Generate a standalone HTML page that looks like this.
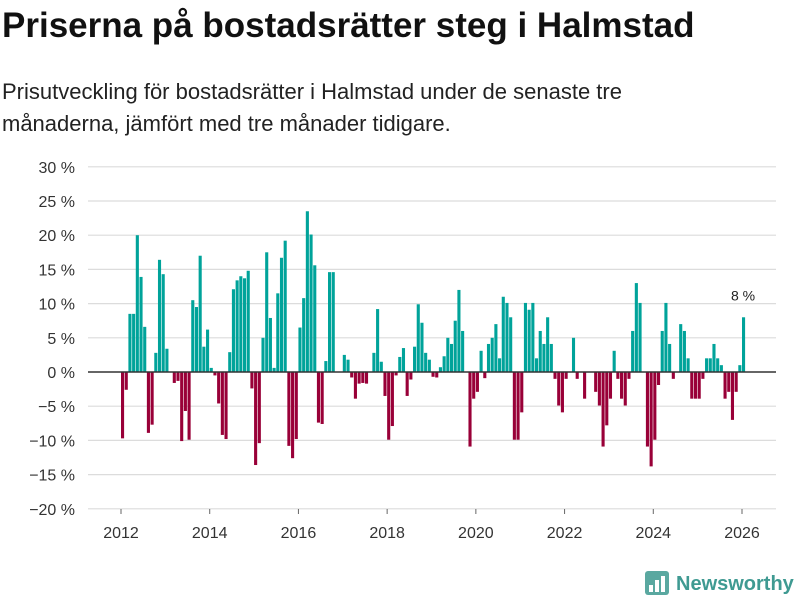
<!DOCTYPE html>
<html><head><meta charset="utf-8"><style>
body{margin:0;background:#fff;font-family:"Liberation Sans",sans-serif;}
#wrap{position:relative;width:800px;height:600px;overflow:hidden;}
h1{position:absolute;left:2px;top:6px;margin:0;font-size:35px;font-weight:bold;color:#111;letter-spacing:0;white-space:nowrap}
p{position:absolute;left:2px;top:76px;margin:0;font-size:22px;line-height:32px;color:#222;width:700px}
</style></head><body>
<div id="wrap">
<h1>Priserna på bostadsrätter steg i Halmstad</h1>
<p>Prisutveckling för bostadsrätter i Halmstad under de senaste tre månaderna, jämfört med tre månader tidigare.</p>
<svg id="chart" width="800" height="600" style="position:absolute;left:0;top:0"></svg>
</div>
<script>
const yTicks=[30,25,20,15,10,5,0,-5,-10,-15,-20];
const xYears=[2012,2014,2016,2018,2020,2022,2024,2026];
const values=[-9.7,-2.6,8.5,8.5,20,13.9,6.6,-8.9,-7.7,2.8,16.4,14.3,
3.4,0,-1.6,-1.3,-10.1,-5.7,-9.9,10.5,9.5,17,3.7,6.2,
0.6,-0.5,-4.6,-9.2,-9.8,2.9,12.1,13.4,14,13.7,14.8,-2.4,
-13.6,-10.4,5,17.5,7.9,0.6,11.5,16.7,19.2,-10.8,-12.6,-9.8,
6.5,10.8,23.5,20.1,15.6,-7.4,-7.6,1.6,14.6,14.6,0,0,
2.5,1.8,-0.8,-3.9,-1.7,-1.6,-1.7,0,2.8,9.2,1.5,-3.5,
-9.9,-7.9,-0.5,2.2,3.5,-3.5,-1.1,3.7,9.9,7.2,2.8,1.8,
-0.7,-0.8,0.7,2.3,5,4.1,7.5,12,6,0,-10.9,-3.9,
-2.9,3.1,-0.9,4.1,5,7,2,11,10.1,8,-9.9,-9.9,
-5.9,10.1,9.1,10.1,2,6,4.1,8,4.1,-1,-4.9,-5.9,
-1,0,5,-1,0,-3.9,0,0,-2.9,-4.9,-10.9,-7.8,
-3.9,3.1,-1,-3.9,-4.9,-1,6,13,10.1,0,-10.9,-13.8,
-9.9,-1.9,6,10.1,4.1,-1,0,7,6,2,-3.9,-3.9,
-3.9,-1,2,2,4.1,2,1,-3.9,-2.9,-7,-2.9,1,
8];
const lastLabel="8 %";
const svg=document.getElementById('chart');
const NS='http://www.w3.org/2000/svg';
const y=v=>372-v*6.84;
const x=m=>121+m*(621/168);
const xYear=yr=>x((yr-2012)*12);
function mk(t,a){const e=document.createElementNS(NS,t);for(const k in a)e.setAttribute(k,a[k]);svg.appendChild(e);return e;}
yTicks.forEach(v=>{
  if(v!==0){const g=mk('line',{x1:88,x2:776,y1:y(v),y2:y(v),stroke:'#dcdcdc','stroke-width':1.2});
  
  }
  const t=mk('text',{x:75,y:y(v)+6,'text-anchor':'end','font-size':16,fill:'#333','font-family':'Liberation Sans, sans-serif'});
  t.textContent=(v<0?'\u2212'+(-v):v)+' %';
  
  
});
xYears.forEach(yr=>{
  const l=mk('line',{x1:xYear(yr),x2:xYear(yr),y1:509,y2:514,stroke:'#666','stroke-width':1});
  
  
  const t=mk('text',{x:xYear(yr),y:538,'text-anchor':'middle','font-size':16,fill:'#333','font-family':'Liberation Sans, sans-serif'});
  t.textContent=yr;
  
  
});
values.forEach((v,i)=>{
  if(v===0)return;
  const r=mk('rect',{x:x(i),width:3.1,y:Math.min(y(v),y(0)),height:Math.abs(y(v)-y(0)),fill:v>0?'#00a39a':'#990038'});
  
  
});
const z=mk('line',{x1:88,x2:776,y1:y(0),y2:y(0),stroke:'#333','stroke-width':1.5});


const li=values.length-1;
const lab=mk('text',{x:x(li)+1,y:y(values[li])-17,'text-anchor':'middle','font-size':14,fill:'#222','font-family':'Liberation Sans, sans-serif'});
lab.textContent=lastLabel;


const lg=mk('g',{});


const box=document.createElementNS(NS,'rect');
box.setAttribute('x',645);box.setAttribute('y',571);box.setAttribute('width',24);box.setAttribute('height',24);box.setAttribute('rx',3);box.setAttribute('fill','#5aa8a0');
lg.appendChild(box);
[[649,585,4,7],[655,580,4,12],[661,576,4,16]].forEach(b=>{const r=document.createElementNS(NS,'rect');r.setAttribute('x',b[0]);r.setAttribute('y',b[1]);r.setAttribute('width',b[2]);r.setAttribute('height',b[3]);r.setAttribute('fill','#fff');lg.appendChild(r);});
const lt=document.createElementNS(NS,'text');
lt.setAttribute('x',676);lt.setAttribute('y',590);lt.setAttribute('font-size',20);lt.setAttribute('font-weight','bold');lt.setAttribute('fill','#3f9a92');lt.setAttribute('font-family','Liberation Sans, sans-serif');
lt.textContent='Newsworthy';
lg.appendChild(lt);
</script>
</body></html>
